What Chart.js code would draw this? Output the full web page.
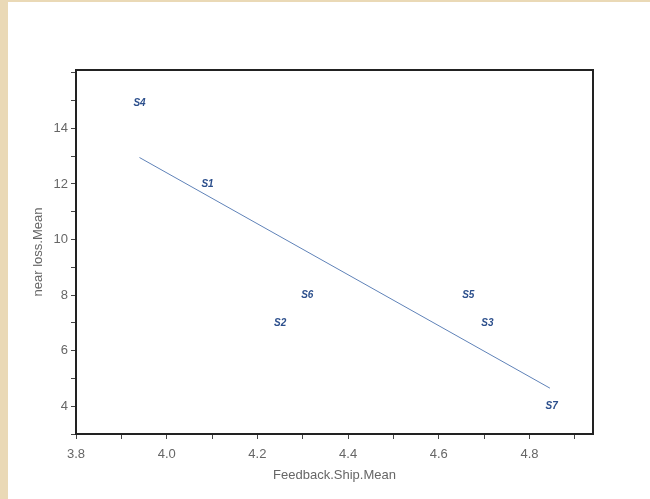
<!DOCTYPE html>
<html>
<head>
<meta charset="utf-8">
<script src="https://cdn.jsdelivr.net/npm/chart.js@4/dist/chart.umd.min.js"></script>
<style>
  html, body { margin: 0; padding: 0; }
  body { width: 650px; height: 499px; background: #ead9b6; position: relative; overflow: hidden; }
  #panel { position: absolute; left: 8px; top: 2px; width: 642px; height: 497px; background: #fff; }
</style>
</head>
<body>
<div id="panel"><canvas id="chart" width="642" height="497"></canvas></div>
<script>
const storeNames = ["S1", "S2", "S3", "S4", "S5", "S6", "S7"];
const feedbackShipMean = [4.09, 4.25, 4.707, 3.94, 4.665, 4.31, 4.849];
const nearLossMean = [12, 7, 7, 14.9, 8, 8, 4];

// fitted line end points
const fitX = [3.94, 4.845];
const fitY = [12.95, 4.65];

const xTitle = "Feedback.Ship.Mean";
const yTitle = "near loss.Mean";

(() => {
  const canvas = document.getElementById("chart");
  const fontFamily = "'Liberation Sans', Arial, sans-serif";
  const tickFont = { family: fontFamily, size: 13 };
  const textColor = "#666";

  const labelPlugin = {
    id: "storeLabels",
    afterDatasetsDraw(chart) {
      const meta = chart.getDatasetMeta(0);
      const { ctx } = chart;
      ctx.save();
      ctx.font = `italic bold 10px ${fontFamily}`;
      ctx.fillStyle = "#2c4f8c";
      ctx.textAlign = "center";
      ctx.textBaseline = "middle";
      meta.data.forEach((point, index) => {
        ctx.fillText(storeNames[index], point.x, point.y);
      });
      ctx.restore();
    },
  };

  const framePlugin = {
    id: "frame",
    afterDraw(chart) {
      const { ctx, chartArea } = chart;
      ctx.save();
      ctx.strokeStyle = "#222";
      ctx.lineWidth = 2;
      ctx.strokeRect(chartArea.left, chartArea.top,
        chartArea.right - chartArea.left, chartArea.bottom - chartArea.top);
      ctx.restore();
    },
  };

  new Chart(canvas, {
    type: "scatter",
    data: {
      datasets: [
        {
          label: "stores",
          data: feedbackShipMean.map((x, i) => ({ x, y: nearLossMean[i] })),
          pointRadius: 0,
          pointHoverRadius: 0,
        },
        {
          label: "fit",
          data: fitX.map((x, i) => ({ x, y: fitY[i] })),
          showLine: true,
          borderColor: "#5f82b8",
          borderWidth: 1,
          pointRadius: 0,
          pointHoverRadius: 0,
        },
      ],
    },
    options: {
      responsive: false,
      animation: false,
      events: [],
      layout: { padding: { top: 68, right: 57, left: 0, bottom: 0 } },
      plugins: {
        legend: { display: false },
        tooltip: { enabled: false },
      },
      scales: {
        x: {
          type: "linear",
          min: 3.8,
          max: 4.94,
          border: { display: false },
          grid: { drawOnChartArea: false, tickLength: 5, color: "#444", tickColor: "#444" },
          ticks: {
            stepSize: 0.1,
            includeBounds: false,
            autoSkip: false,
            maxRotation: 0,
            padding: 8,
            color: textColor,
            font: tickFont,
            callback: (value) => (Math.round(value * 10) % 2 === 0 ? value.toFixed(1) : ""),
          },
          title: {
            display: true,
            text: xTitle,
            color: textColor,
            font: tickFont,
            padding: { top: 0, bottom: 16 },
          },
          afterFit: (scale) => { scale.height = 65; },
        },
        y: {
          type: "linear",
          min: 3,
          max: 16.1,
          border: { display: false },
          grid: { drawOnChartArea: false, tickLength: 5, color: "#444", tickColor: "#444" },
          ticks: {
            stepSize: 1,
            includeBounds: false,
            autoSkip: false,
            padding: 3,
            color: textColor,
            font: tickFont,
            callback: (value) => (value % 2 === 0 && value >= 4 && value <= 14 ? String(value) : ""),
          },
          title: {
            display: true,
            text: yTitle,
            color: textColor,
            font: tickFont,
            padding: { top: 23, bottom: 0 },
          },
          afterFit: (scale) => { scale.width = 68; },
        },
      },
    },
    plugins: [labelPlugin, framePlugin],
  });
})();
</script>
</body>
</html>
